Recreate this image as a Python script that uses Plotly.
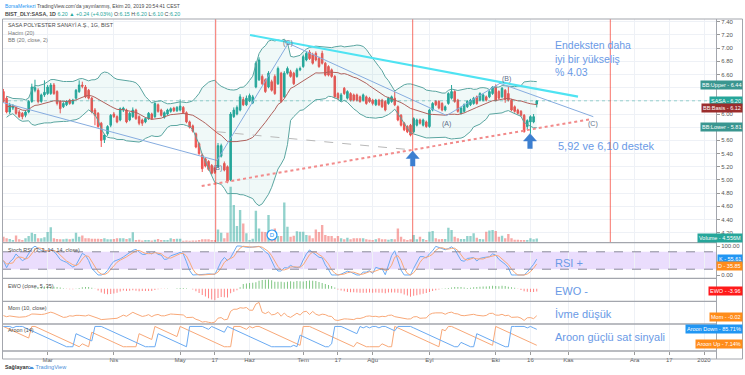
import numpy as np
import pandas as pd
import plotly.graph_objects as go

# ---------------- data ----------------
tick_idx = [14, 35, 56, 67, 78, 95, 106, 117, 135, 156, 167, 179, 200, 211, 222]
tick_text = ["Mar", "Nis", "May", "17", "Haz", "Tem", "17", "Ağu", "Eyl", "Eki", "16", "Kas", "Ara", "17", "2020"]

price_ticks = [4.2, 4.4, 4.6, 4.8, 5.0, 5.2, 5.4, 5.6, 5.8, 6.0, 6.2, 6.4, 6.6, 6.8, 7.0, 7.2, 7.4]
# labels hidden under the value badges are left blank, as in the original
price_text = ["4.20", "4.40", "4.60", "4.80", "5.00", "5.20", "5.40", "5.60", "", "6.00",
              "", "", "6.60", "6.80", "7.00", "7.20", "7.40"]

opens = [6.34, 6.24, 6.03, 6.09, 6.09, 6.03, 6.01, 5.98, 6.03, 6.19,
         6.36, 6.36, 6.19, 6.29, 6.31, 6.31, 6.44, 6.34, 6.19, 6.11,
         6.14, 6.21, 6.16, 6.24, 6.34, 6.44, 6.41, 6.36, 6.24, 6.06,
         6.01, 5.86, 5.61, 5.70, 5.83, 6.00, 5.96, 5.91, 6.06, 6.06,
         5.91, 5.96, 6.06, 5.96, 5.91, 5.88, 5.93, 6.00, 5.96, 6.14,
         6.06, 5.95, 6.00, 6.04, 6.09, 6.05, 6.06, 6.10, 6.02, 5.88,
         5.82, 5.70, 5.55, 5.38, 5.32, 5.28, 5.22, 5.18, 5.20, 5.36,
         5.25, 5.20, 5.00, 5.96, 6.00, 6.06, 6.22, 6.14, 6.20, 6.17,
         6.41, 6.52, 6.57, 6.52, 6.41, 6.49, 6.57, 6.46, 6.62, 6.26,
         6.62, 6.64, 6.62, 6.57, 6.67, 6.72, 6.82, 6.94, 6.90, 6.92,
         6.84, 6.92, 6.77, 6.72, 6.67, 6.57, 6.31, 6.21, 6.39, 6.24,
         6.31, 6.29, 6.29, 6.26, 6.21, 6.26, 6.24, 6.21, 6.14, 6.21,
         6.21, 6.19, 6.16, 6.19, 6.24, 6.11, 5.98, 5.86, 5.81, 5.83,
         5.73, 5.83, 5.91, 5.83, 5.88, 5.81, 6.06, 6.19, 6.19, 6.16,
         6.06, 6.16, 6.24, 6.34, 6.21, 6.01, 6.04, 6.11, 6.14, 6.16,
         6.26, 6.21, 6.21, 6.26, 6.26, 6.31, 6.41, 6.34, 6.26, 6.36,
         6.31, 6.21, 6.11, 6.06, 6.04, 5.98, 5.81, 5.88, 5.88, 6.15]
highs = [6.38, 6.27, 6.17, 6.15, 6.12, 6.06, 6.03, 6.06, 6.21, 6.46,
         6.52, 6.39, 6.31, 6.51, 6.44, 6.47, 6.47, 6.36, 6.21, 6.18,
         6.21, 6.23, 6.23, 6.38, 6.51, 6.49, 6.44, 6.38, 6.26, 6.09,
         6.03, 5.88, 5.70, 5.83, 6.00, 6.03, 5.98, 6.10, 6.11, 6.08,
         6.03, 6.10, 6.08, 5.98, 5.93, 5.95, 6.03, 6.02, 6.18, 6.16,
         6.08, 6.04, 6.08, 6.10, 6.11, 6.12, 6.22, 6.12, 6.04, 5.90,
         5.84, 5.72, 5.57, 5.40, 5.34, 5.30, 5.24, 5.20, 5.56, 5.55,
         5.28, 5.22, 6.03, 6.10, 6.13, 6.30, 6.26, 6.28, 6.31, 6.29,
         6.80, 6.86, 6.60, 6.54, 6.65, 6.52, 6.60, 6.72, 6.64, 6.65,
         6.72, 6.67, 6.64, 6.70, 6.72, 6.90, 6.95, 6.97, 6.93, 6.95,
         6.87, 6.96, 6.79, 6.74, 6.69, 6.59, 6.33, 6.32, 6.41, 6.36,
         6.33, 6.31, 6.31, 6.28, 6.31, 6.28, 6.26, 6.23, 6.23, 6.23,
         6.23, 6.21, 6.26, 6.28, 6.34, 6.13, 6.00, 5.88, 5.83, 5.85,
         5.95, 5.93, 5.93, 5.93, 5.90, 6.08, 6.18, 6.21, 6.21, 6.18,
         6.13, 6.33, 6.44, 6.36, 6.23, 6.11, 6.16, 6.21, 6.23, 6.26,
         6.28, 6.33, 6.31, 6.28, 6.36, 6.42, 6.45, 6.36, 6.41, 6.38,
         6.41, 6.23, 6.13, 6.08, 6.06, 6.00, 5.92, 5.98, 6.00, 6.20]
lows = [6.17, 6.01, 6.00, 6.06, 5.99, 5.94, 5.92, 5.95, 6.01, 6.17,
        6.33, 6.16, 6.17, 6.26, 6.29, 6.29, 6.29, 6.13, 6.01, 6.09,
        6.12, 6.14, 6.14, 6.22, 6.32, 6.39, 6.24, 6.22, 6.01, 5.83,
        5.79, 5.50, 5.56, 5.67, 5.80, 5.94, 5.86, 5.89, 6.03, 5.86,
        5.89, 5.94, 5.91, 5.83, 5.82, 5.86, 5.91, 5.91, 5.94, 6.02,
        5.96, 5.93, 5.98, 6.02, 6.03, 6.03, 6.04, 6.00, 5.86, 5.78,
        5.72, 5.48, 5.38, 5.12, 5.19, 5.14, 5.08, 5.09, 5.18, 5.34,
        5.13, 4.95, 4.98, 5.94, 5.98, 6.04, 6.12, 6.12, 6.18, 6.15,
        6.39, 6.50, 6.44, 6.32, 6.39, 6.34, 6.29, 6.44, 6.17, 6.24,
        6.60, 6.55, 6.44, 6.55, 6.65, 6.70, 6.80, 6.82, 6.75, 6.80,
        6.70, 6.75, 6.57, 6.57, 6.55, 6.24, 6.21, 6.19, 6.29, 6.22,
        6.19, 6.19, 6.19, 6.17, 6.19, 6.14, 6.17, 6.13, 6.12, 6.12,
        6.09, 6.04, 6.14, 6.17, 6.12, 5.89, 5.81, 5.74, 5.71, 5.66,
        5.71, 5.81, 5.84, 5.81, 5.79, 5.79, 6.04, 6.12, 6.07, 6.04,
        6.04, 6.14, 6.22, 6.17, 6.02, 5.99, 6.02, 6.09, 6.12, 6.14,
        6.14, 6.19, 6.19, 6.19, 6.24, 6.29, 6.19, 6.22, 6.24, 6.17,
        6.19, 6.04, 6.02, 5.99, 5.96, 5.72, 5.76, 5.70, 5.86, 6.10]
closes = [6.19, 6.03, 6.14, 6.12, 6.01, 5.96, 5.96, 6.03, 6.19, 6.41,
          6.40, 6.19, 6.29, 6.33, 6.41, 6.44, 6.31, 6.16, 6.08, 6.16,
          6.19, 6.16, 6.21, 6.36, 6.44, 6.42, 6.26, 6.24, 6.03, 5.98,
          5.81, 5.60, 5.68, 5.81, 5.98, 5.96, 5.88, 6.08, 6.09, 5.88,
          6.01, 6.06, 5.93, 5.86, 5.86, 5.93, 6.01, 5.93, 6.16, 6.04,
          5.98, 6.02, 6.06, 6.08, 6.05, 6.10, 6.12, 6.02, 5.88, 5.80,
          5.74, 5.50, 5.40, 5.17, 5.21, 5.16, 5.10, 5.11, 5.52, 5.52,
          5.15, 4.98, 6.00, 6.06, 6.10, 6.26, 6.14, 6.24, 6.28, 6.26,
          6.77, 6.82, 6.46, 6.34, 6.62, 6.36, 6.31, 6.69, 6.19, 6.62,
          6.69, 6.57, 6.46, 6.67, 6.69, 6.87, 6.92, 6.84, 6.77, 6.82,
          6.72, 6.77, 6.59, 6.59, 6.57, 6.26, 6.24, 6.29, 6.31, 6.34,
          6.21, 6.21, 6.21, 6.19, 6.29, 6.16, 6.19, 6.16, 6.21, 6.14,
          6.11, 6.06, 6.24, 6.26, 6.14, 5.91, 5.83, 5.76, 5.73, 5.68,
          5.93, 5.91, 5.86, 5.91, 5.81, 6.06, 6.16, 6.14, 6.09, 6.06,
          6.11, 6.31, 6.34, 6.19, 6.04, 6.09, 6.14, 6.19, 6.21, 6.24,
          6.16, 6.31, 6.29, 6.21, 6.34, 6.41, 6.21, 6.24, 6.39, 6.22,
          6.21, 6.06, 6.04, 6.01, 5.98, 5.73, 5.90, 5.96, 5.96, 6.20]
volume_m = [6.9, 4.6, 3.7, 2.3, 8.7, 3.2, 2.3, 4.6, 7.8, 12.4,
            10.6, 4.6, 4.6, 6.0, 13.3, 19.8, 4.6, 3.7, 3.2, 3.2,
            4.1, 3.2, 4.1, 12.4, 6.9, 8.7, 4.6, 4.6, 4.1, 4.1,
            4.1, 3.7, 4.6, 3.2, 3.2, 3.7, 4.6, 4.6, 4.6, 3.7,
            4.6, 12.9, 2.3, 2.8, 1.8, 2.3, 2.3, 1.8, 2.8, 3.7,
            2.3, 2.3, 2.3, 4.6, 3.7, 4.1, 4.1, 1.4, 1.8, 1.4,
            1.8, 1.8, 2.3, 3.2, 3.2, 3.2, 2.3, 2.3, 17.0, 12.4,
            4.6, 12.4, 75.9, 50.6, 21.6, 43.7, 25.3, 11.5, 2.3, 4.1,
            42.8, 18.4, 13.8, 13.3, 36.8, 15.2, 18.4, 7.8, 7.8, 54.3,
            20.7, 6.9, 8.3, 14.3, 13.8, 13.8, 9.2, 8.7, 4.6, 17.0,
            13.3, 23.0, 9.2, 7.8, 7.8, 4.6, 7.8, 4.6, 3.2, 5.5,
            3.2, 4.6, 4.6, 4.6, 4.6, 3.2, 2.8, 2.3, 3.2, 4.6,
            3.2, 3.2, 2.8, 3.7, 3.2, 18.4, 6.9, 3.2, 2.3, 3.2,
            9.2, 3.2, 6.9, 3.7, 2.3, 13.8, 14.7, 4.6, 3.2, 3.7,
            3.7, 19.3, 16.1, 6.9, 4.6, 3.7, 3.7, 7.8, 7.8, 11.5,
            5.5, 3.7, 3.2, 13.8, 15.6, 16.1, 14.7, 6.9, 8.3, 4.6,
            10.6, 4.6, 2.8, 2.8, 2.3, 2.3, 2.3, 4.6, 3.2, 4.56]

# ---------------- geometry ----------------
W, H = 745, 375
ML, MR, MT, MB = 2, 29, 19, 24
PW, PH = W - ML - MR, H - MT - MB
XR = [-0.45, 225.8]
PR = [4.048, 7.441]
MAIN_BOTTOM = 242.7


def PX(px):
    return (px - ML) / PW


def PY(py):
    return (H - MB - py) / PH


def IDX(px):
    return XR[0] + (px - ML) / PW * (XR[1] - XR[0])


def PRICE(py):
    return PR[1] - (py - MT) / (MAIN_BOTTOM - MT) * (PR[1] - PR[0])


# ---------------- indicators ----------------
X = list(range(len(closes)))
c = pd.Series(closes, dtype=float)
hi = pd.Series(highs, dtype=float)
lo = pd.Series(lows, dtype=float)

basis = c.rolling(20, min_periods=2).mean()
sd = c.rolling(20, min_periods=2).std(ddof=0)
upper = basis + 2 * sd
lower = basis - 2 * sd

dlt = c.diff().fillna(0)
ag = dlt.clip(lower=0).ewm(alpha=1 / 14, adjust=True).mean()
al = (-dlt.clip(upper=0)).ewm(alpha=1 / 14, adjust=True).mean()
rsi = (100 - 100 / (1 + ag / al.replace(0, np.nan))).fillna(50)
rlo = rsi.rolling(14, min_periods=1).min()
rhi = rsi.rolling(14, min_periods=1).max()
st = ((rsi - rlo) / (rhi - rlo).replace(0, np.nan) * 100).fillna(50)
kline = st.rolling(3, min_periods=1).mean()
dline = kline.rolling(3, min_periods=1).mean()

sma5 = c.rolling(5, min_periods=1).mean()
sma35 = c.rolling(35, min_periods=1).mean()
ewo = (sma5 - sma35) / c * 100

mom = c - c.shift(10)
mom = mom.fillna(c - c.iloc[0])


def bars_since_max(a):
    return len(a) - 1 - int(np.argmax(a))


def bars_since_min(a):
    return len(a) - 1 - int(np.argmin(a))


aup = 100 * (14 - hi.rolling(15, min_periods=1).apply(bars_since_max, raw=True)) / 14
adn = 100 * (14 - lo.rolling(15, min_periods=1).apply(bars_since_min, raw=True)) / 14

inc = [cl >= op for op, cl in zip(opens, closes)]
vol_colors = ['rgba(38,166,154,0.5)' if u else 'rgba(239,83,80,0.5)' for u in inc]
ewo_colors = ['rgba(76,175,80,0.75)' if v >= 0 else 'rgba(255,82,82,0.75)' for v in ewo]

# ---------------- figure ----------------
fig = go.Figure()

fig.add_trace(go.Bar(x=X, y=volume_m, marker=dict(color=vol_colors, line=dict(width=0)),
                     xaxis='x', yaxis='y', hoverinfo='skip'))
fig.add_trace(go.Scatter(x=X, y=upper, mode='lines', line=dict(color='#5aa5a0', width=1),
                         xaxis='x', yaxis='y2', hoverinfo='skip'))
fig.add_trace(go.Scatter(x=X, y=lower, mode='lines', line=dict(color='#5aa5a0', width=1),
                         fill='tonexty', fillcolor='rgba(38,166,154,0.07)',
                         xaxis='x', yaxis='y2', hoverinfo='skip'))
fig.add_trace(go.Scatter(x=X, y=basis, mode='lines', line=dict(color='#b0615c', width=1),
                         xaxis='x', yaxis='y2', hoverinfo='skip'))
fig.add_trace(go.Candlestick(x=X, open=opens, high=highs, low=lows, close=closes,
                             increasing=dict(line=dict(color='#26a69a', width=1), fillcolor='#26a69a'),
                             decreasing=dict(line=dict(color='#ef5350', width=1), fillcolor='#ef5350'),
                             whiskerwidth=0, xaxis='x', yaxis='y2', hoverinfo='skip'))


def seg(pts, color, width, dash='solid'):
    fig.add_trace(go.Scatter(x=[IDX(p[0]) for p in pts], y=[PRICE(p[1]) for p in pts],
                             mode='lines', line=dict(color=color, width=width, dash=dash),
                             xaxis='x', yaxis='y2', hoverinfo='skip'))


seg([(-10, 99.0), (217, 160.5), (288.3, 43.3), (446.7, 115.5), (500, 83.3), (593.3, 116.7)], '#86acdf', 1)
seg([(250, 35), (578, 96.7)], '#4fe3f2', 2.2)
seg([(201.7, 186), (590, 119.3)], '#f28b8b', 2, 'dot')
seg([(216.7, 131.7), (413.3, 150)], '#b8b8b8', 1, 'dash')

fig.add_shape(type='line', xref='x domain', yref='y2', x0=0, x1=1, y0=closes[-1], y1=closes[-1],
              line=dict(color='rgba(38,166,154,0.45)', width=1, dash='dot'))

fig.add_trace(go.Scatter(x=[IDX(272)], y=[PRICE(235)], mode='markers+text', text=['D'],
                         textfont=dict(size=6, color='#2196f3', family='Liberation Sans'),
                         marker=dict(size=10, color='white', line=dict(color='#2196f3', width=1.2)),
                         xaxis='x', yaxis='y2', hoverinfo='skip'))

fig.add_trace(go.Scatter(x=X, y=kline, mode='lines', line=dict(color='#6aaaf2', width=1),
                         xaxis='x2', yaxis='y3', hoverinfo='skip'))
fig.add_trace(go.Scatter(x=X, y=dline, mode='lines', line=dict(color='#f8a878', width=1),
                         xaxis='x2', yaxis='y3', hoverinfo='skip'))
fig.add_trace(go.Bar(x=X, y=ewo, width=0.3, marker=dict(color=ewo_colors, line=dict(width=0)),
                     xaxis='x3', yaxis='y4', hoverinfo='skip'))
fig.add_trace(go.Scatter(x=X, y=mom, mode='lines', line=dict(color='#f8a878', width=1),
                         xaxis='x4', yaxis='y5', hoverinfo='skip'))
fig.add_trace(go.Scatter(x=X, y=aup, mode='lines', line=dict(color='#f8a878', width=1),
                         xaxis='x5', yaxis='y6', hoverinfo='skip'))
fig.add_trace(go.Scatter(x=X, y=adn, mode='lines', line=dict(color='#6aaaf2', width=1),
                         xaxis='x5', yaxis='y6', hoverinfo='skip'))

GRID = '#eef1f6'
UIFONT = 'Liberation Sans'
dom_main = [PY(MAIN_BOTTOM), 1]
dom_st = [PY(278.3), PY(MAIN_BOTTOM)]
dom_ewo = [PY(301.3), PY(278.3)]
dom_mom = [PY(324), PY(301.3)]
dom_ar = [0, PY(324)]

xcommon = dict(range=XR, tickmode='array', tickvals=tick_idx, ticktext=tick_text,
               showgrid=True, gridcolor=GRID, gridwidth=1, zeroline=False, showline=False,
               showticklabels=False, ticks='', fixedrange=True)

layout = dict(
    width=W, height=H, margin=dict(l=ML, r=MR, t=MT, b=MB),
    paper_bgcolor='white', plot_bgcolor='white', showlegend=False, bargap=0.25,
    font=dict(family=UIFONT, size=6, color='#4a4a4a'),
    xaxis=dict(**xcommon, anchor='y2', rangeslider=dict(visible=False)),
    xaxis2=dict(**xcommon, anchor='y3', matches='x'),
    xaxis3=dict(**xcommon, anchor='y4', matches='x'),
    xaxis4=dict(**xcommon, anchor='y5', matches='x'),
    xaxis5=dict(range=XR, tickmode='array', tickvals=tick_idx, ticktext=tick_text,
                showgrid=True, gridcolor=GRID, zeroline=False, showline=False,
                showticklabels=True, ticks='outside', ticklen=3, tickcolor='#9a9a9a',
                tickfont=dict(size=6, color='#555555', family=UIFONT), anchor='y6', matches='x'),
    yaxis=dict(domain=dom_main, range=[-1.4, 308], visible=False, fixedrange=True),
    yaxis2=dict(domain=dom_main, range=PR, overlaying='y', side='right', anchor='x',
                tickmode='array', tickvals=price_ticks, ticktext=price_text,
                showgrid=True, gridcolor=GRID, zeroline=False,
                ticks='outside', ticklen=3, tickcolor='#9a9a9a',
                tickfont=dict(size=6, color='#555555', family=UIFONT)),
    yaxis3=dict(domain=dom_st, range=[-11.4, 111.4], side='right', anchor='x2',
                tickmode='array', tickvals=[0, 100], ticktext=['0.00', '100.00'],
                showgrid=False, zeroline=False, ticks='outside', ticklen=3, tickcolor='#9a9a9a',
                tickfont=dict(size=6, color='#555555', family=UIFONT)),
    yaxis4=dict(domain=dom_ewo, side='right', anchor='x3', showgrid=False, zeroline=False,
                showticklabels=False),
    yaxis5=dict(domain=dom_mom, side='right', anchor='x4', showgrid=False, zeroline=False,
                showticklabels=False),
    yaxis6=dict(domain=dom_ar, range=[-21, 112], side='right', anchor='x5', showgrid=False,
                zeroline=False, showticklabels=False),
)
fig.update_layout(**layout)

fig.add_shape(type='rect', xref='x2 domain', yref='y3', x0=0, x1=1, y0=20, y1=80,
              fillcolor='rgba(160,100,245,0.22)', line=dict(width=0), layer='below')
for lv in (20, 80):
    fig.add_shape(type='line', xref='x2 domain', yref='y3', x0=0, x1=1, y0=lv, y1=lv,
                  line=dict(color='#8a8a9a', width=1, dash='dash'))

for px in (215.7, 412.7, 610.3):
    fig.add_shape(type='line', xref='x', yref='y2 domain', x0=IDX(px), x1=IDX(px), y0=0, y1=1,
                  line=dict(color='rgba(244,67,54,0.75)', width=1))

for py in (MAIN_BOTTOM, 278.3, 301.3, 324, 351):
    fig.add_shape(type='line', xref='paper', yref='paper', x0=PX(2), x1=PX(716.5), y0=PY(py), y1=PY(py),
                  line=dict(color='#a3a6ad', width=1.3))
fig.add_shape(type='rect', xref='paper', yref='paper', x0=PX(2.5), x1=PX(742.5), y0=PY(359), y1=PY(19),
              line=dict(color='#a3a6ad', width=1))
fig.add_shape(type='line', xref='paper', yref='paper', x0=PX(716.5), x1=PX(716.5), y0=PY(359), y1=PY(19),
              line=dict(color='#a3a6ad', width=1))

ARROW = 'M 0 0 L 6.5 -7.5 L 2.3 -7.5 L 2.3 -15 L -2.3 -15 L -2.3 -7.5 L -6.5 -7.5 Z'
for hx, hy in [(412.7, 151), (530, 133.5)]:
    fig.add_shape(type='path', xref='x', yref='y2', xsizemode='pixel', ysizemode='pixel',
                  xanchor=IDX(hx), yanchor=PRICE(hy), path=ARROW,
                  fillcolor='#3c7fd0', line=dict(color='#3c7fd0', width=0.5))

anns = []


def txt(text, px, py, size=6, color='#4a4a4a', xanchor='left', family=UIFONT):
    anns.append(dict(text=text, x=PX(px), y=PY(py), xref='paper', yref='paper', showarrow=False,
                     xanchor=xanchor, yanchor='middle', align='left',
                     font=dict(size=size, color=color, family=family)))


def badge(text, py, bg):
    anns.append(dict(text=text, x=PX(743), y=PY(py), xref='paper', yref='paper', showarrow=False,
                     xanchor='right', yanchor='middle', bgcolor=bg, borderpad=1,
                     font=dict(size=5.5, color='white', family=UIFONT)))


G = '#26a69a'
txt('<span style="color:#2196f3">BorsaMerkezi</span> TradingView.com\'da yayınlanmış, Ekim 20, 2019 20:54:41 CEST',
    3, 6, size=5)
txt('<b>BIST_DLY:SASA, 1D</b> <span style="color:%s">6.20 ▲ +0.24 (+4.03%%)</span> O:<span style="color:%s">6.15</span> '
    'H:<span style="color:%s">6.20</span> L:<span style="color:%s">6.10</span> C:<span style="color:%s">6.20</span>'
    % (G, G, G, G, G), 3, 13.8, size=5.3)
txt('SASA POLYESTER SANAYİ A.Ş., 1G, BIST', 6, 25.3, size=5.4)
txt('Hacim (20)', 6, 32.7, size=5.4, color='#777777')
txt('BB (20, close, 2)', 6, 40, size=5.4, color='#777777')
txt('Stoch RSI (3, 3, 14, 14, close)', 6, 250, size=5.4)
txt('EWO (close, 5, 35)', 6, 286, size=5.4)
txt('Mom (10, close)', 6, 308.3, size=5.4)
txt('Aroon (14)', 6, 330, size=5.4)
txt('<b>Sağlayan:</b>', 3, 367, size=5.4, color='#333333')
txt('☁ TradingView', 26, 367, size=5.6, color='#4a90d9')

BLUE_T = '#6a9ae6'
txt('Endeksten daha<br>iyi bir yükseliş<br>% 4.03', 552.5, 58.3, size=10.5, color=BLUE_T)
txt('5,92 ve 6,10 destek', 556, 146, size=11, color=BLUE_T)
txt('RSI +', 552.5, 262.5, size=11, color=BLUE_T)
txt('EWO -', 552.5, 291.3, size=11, color=BLUE_T)
txt('İvme düşük', 552.5, 313.5, size=11, color=BLUE_T)
txt('Aroon güçlü sat sinyali', 552.5, 336.7, size=11, color=BLUE_T)

WAVE = '#5f6f8a'
for lab, px, py in [('(C)', 288.3, 43.3), ('(B)', 218, 168), ('(A)', 446.7, 124), ('(B)', 506, 79),
                    ('(C)', 593.3, 124.5)]:
    txt(lab, px, py, size=7, color=WAVE, xanchor='center')

badge('BB:Upper - 6.44', 85, '#3a9690')
badge('SASA - 6.20', 100.6, '#26a69a')
badge('BB:Basis - 6.12', 108.3, '#9b2d2d')
badge('BB:Lower - 5.81', 127.3, '#3a9690')
badge('Volume - 4.556M', 237.8, '#26a69a')
badge('K - 55.61', 258.7, '#2196f3')
badge('D - 35.85', 265.5, '#ff8c1a')
badge('EWO - -3.96', 291.3, '#ff1a1a')
badge('Mom - -0.02', 316.5, '#ff8c1a')
badge('Aroon Down - 85.71%', 329.3, '#2196f3')
badge('Aroon Up - 7.14%', 344.2, '#ff8c1a')

fig.update_layout(annotations=anns)
fig.write_html('out.html', config={'displayModeBar': False},
               post_script="document.body.style.margin='0px';document.body.style.padding='0px';")
